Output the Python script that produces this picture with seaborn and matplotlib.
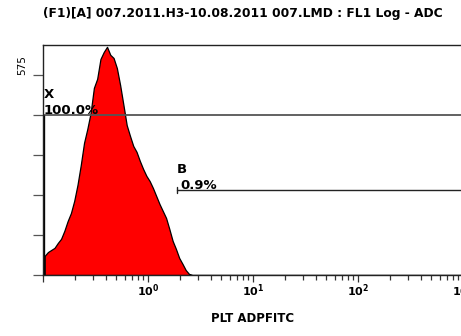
import numpy as np
import pandas as pd
import matplotlib
matplotlib.use("Agg")
import matplotlib.pyplot as plt
import seaborn as sns

# FL1 log histogram: channel counts in 1/32-decade bins starting at 10^-1
bin_width_log = 1 / 32
counts = [55, 66, 72, 78, 92, 104, 127, 155, 178, 213,
          259, 316, 380, 420, 466, 538, 564, 621, 641, 656,
          633, 624, 595, 546, 489, 431, 400, 371, 354, 328,
          305, 285, 270, 250, 227, 204, 184, 164, 132, 98,
          75, 49, 32, 14, 3]
y_ticks = [0, 115, 230, 345, 460, 575]
y_tick_labels = ["", "", "", "", "", "575"]
x_ticks = [0.1, 1, 10, 100, 1000]
x_tick_labels = ["", r"$\mathbf{10^{0}}$", r"$\mathbf{10^{1}}$",
                 r"$\mathbf{10^{2}}$", r"$\mathbf{10^{3}}$"]

# gates: X covers everything, B the bright tail
gate_x = {"name": "X", "pct": "100.0%", "start": 0.1, "level": 460}
gate_b = {"name": "B", "pct": "0.9%", "start": 1.89, "level": 244}

log_centers = -1 + bin_width_log * (np.arange(len(counts)) + 0.5)
df = pd.DataFrame({"fl1": 10 ** log_centers, "count": counts})

sns.set_style("white")
plt.rcParams["font.family"] = ["Liberation Sans", "DejaVu Sans"]
plt.rcParams["text.color"] = "black"
plt.rcParams["axes.labelcolor"] = "black"
plt.rcParams["xtick.color"] = "black"
plt.rcParams["ytick.color"] = "black"

fig = plt.figure(figsize=(4.61, 3.36), dpi=100)
ax = fig.add_axes([43 / 461, 61 / 336, 420 / 461, 230 / 336])

sns.histplot(data=df, x="fl1", weights="count", log_scale=True,
             binwidth=bin_width_log, binrange=(-1, 3), element="poly",
             fill=True, color="#ff0000", alpha=1.0, edgecolor="black",
             linewidth=0.9, ax=ax)

ax.set_xlim(0.1, 1000)
ax.set_ylim(0, 575 * 230 / 200)

# frame
ax.spines["right"].set_visible(False)
for side in ["left", "top", "bottom"]:
    ax.spines[side].set_color("#222222")
    ax.spines[side].set_linewidth(1.0)

ax.set_yticks(y_ticks)
ax.set_yticklabels(y_tick_labels, rotation=90, va="bottom", fontsize=7.5,
                   family="Liberation Sans Narrow")
ax.tick_params(axis="y", direction="out", length=7.5, width=0.9,
               color="#555555", pad=4, left=True)
ax.set_xticks(x_ticks)
ax.set_xticklabels(x_tick_labels, fontsize=8)
ax.tick_params(axis="x", which="major", direction="out", length=5,
               width=0.9, color="#333333", pad=0.5, bottom=True)
ax.tick_params(axis="x", which="minor", direction="out", length=3.5,
               width=0.9, color="#333333", bottom=True)
ax.set_ylabel("")
ax.set_xlabel("PLT ADPFITC", fontsize=8.5, fontweight="bold",
              family="DejaVu Sans", labelpad=9)

# gate X
ax.plot([gate_x["start"], 1000], [gate_x["level"]] * 2, color="#555555", lw=1.3)
ax.plot([gate_x["start"]] * 2, [0, gate_x["level"]], color="black", lw=2.4,
        solid_capstyle="butt")
ax.text(0.101, gate_x["level"] + 40, gate_x["name"], fontsize=9.5,
        fontweight="bold", family="DejaVu Sans", va="bottom", ha="left")
ax.text(0.101, gate_x["level"] - 6, gate_x["pct"], fontsize=9.5,
        fontweight="bold", family="DejaVu Sans", va="bottom", ha="left")

# gate B
ax.plot([gate_b["start"], 1000], [gate_b["level"]] * 2, color="#222222", lw=1.0)
ax.plot([gate_b["start"]] * 2, [gate_b["level"] - 9, gate_b["level"] + 9],
        color="#222222", lw=1.0)
ax.text(gate_b["start"], gate_b["level"] + 42, gate_b["name"], fontsize=9.5,
        fontweight="bold", family="DejaVu Sans", va="bottom", ha="left")
ax.text(gate_b["start"] * 1.07, gate_b["level"] - 6, gate_b["pct"], fontsize=9.5,
        fontweight="bold", family="DejaVu Sans", va="bottom", ha="left")

fig.text(243 / 461, 1 - 13 / 336,
         "(F1)[A] 007.2011.H3-10.08.2011 007.LMD : FL1 Log - ADC",
         ha="center", va="center", fontsize=8.8, fontweight="bold",
         family="DejaVu Sans")

fig.savefig("out.png", dpi=100)
